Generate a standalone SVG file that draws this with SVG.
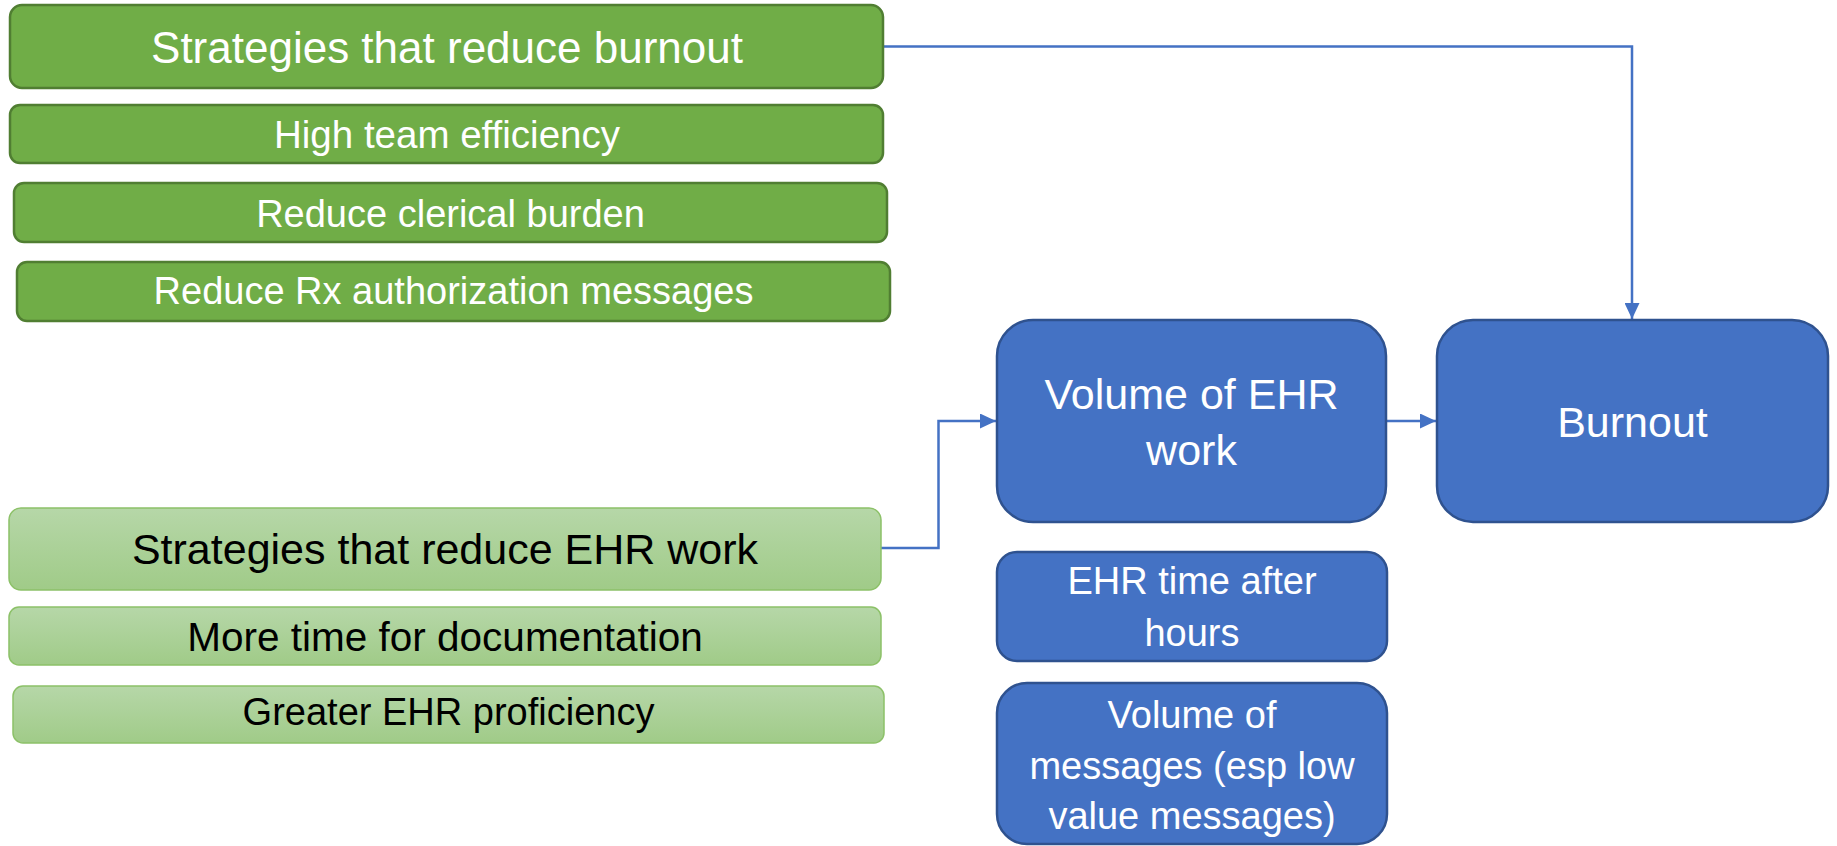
<svg xmlns="http://www.w3.org/2000/svg" width="1837" height="846" viewBox="0 0 1837 846">
<style>
.g1{fill:#70AD47;stroke:#507E32;stroke-width:2.5}
.g2{fill:url(#lg);stroke:#8CC168;stroke-width:1.5}
.b{fill:#4472C4;stroke:#2F528F;stroke-width:2.5}
.tw{fill:#FFFFFF;font-family:"Liberation Sans",Arial,sans-serif;text-anchor:middle}
.tk{fill:#000000;font-family:"Liberation Sans",Arial,sans-serif;text-anchor:middle}
.c{fill:none;stroke:#4472C4;stroke-width:2.5}
</style>
<defs>
<linearGradient id="lg" x1="0" y1="0" x2="0" y2="1">
<stop offset="0" stop-color="#B6D7A8"/>
<stop offset="1" stop-color="#A0CB88"/>
</linearGradient>
<marker id="ah" markerWidth="17" markerHeight="15" refX="16" refY="7.5" orient="auto" markerUnits="userSpaceOnUse">
<path d="M0,0 L16,7.5 L0,15 Z" fill="#4472C4"/>
</marker>
</defs>
<rect width="1837" height="846" fill="#FFFFFF"/>
<g id="connectors">
<path class="c" d="M883,46.5 H1632 V319" marker-end="url(#ah)"/>
<path class="c" d="M881,548 H938.5 V421 H996" marker-end="url(#ah)"/>
<path class="c" d="M1386,421 H1436" marker-end="url(#ah)"/>
</g>
<g id="n-burnout-strategies">
<rect class="g1" x="10" y="5" width="873" height="83" rx="12"/>
<text class="tw" x="447" y="63" font-size="44">Strategies that reduce burnout</text>
</g>
<g id="n-team-efficiency">
<rect class="g1" x="10" y="105" width="873" height="58" rx="10"/>
<text class="tw" x="447" y="148" font-size="38.5">High team efficiency</text>
</g>
<g id="n-clerical">
<rect class="g1" x="14" y="183" width="873" height="59" rx="10"/>
<text class="tw" x="450.5" y="227" font-size="38">Reduce clerical burden</text>
</g>
<g id="n-rx">
<rect class="g1" x="17" y="262" width="873" height="59" rx="10"/>
<text class="tw" x="453.5" y="304" font-size="38">Reduce Rx authorization messages</text>
</g>
<g id="n-ehr-strategies">
<rect class="g2" x="9" y="508" width="872" height="82" rx="12"/>
<text class="tk" x="445" y="564" font-size="43">Strategies that reduce EHR work</text>
</g>
<g id="n-documentation">
<rect class="g2" x="9" y="607" width="872" height="58" rx="10"/>
<text class="tk" x="445" y="651" font-size="40.5">More time for documentation</text>
</g>
<g id="n-proficiency">
<rect class="g2" x="13" y="686" width="871" height="57" rx="10"/>
<text class="tk" x="448.5" y="725" font-size="38">Greater EHR proficiency</text>
</g>
<g id="n-volume-ehr">
<rect class="b" x="997" y="320" width="389" height="202" rx="36"/>
<text class="tw" x="1191.5" y="409" font-size="43">Volume of EHR</text>
<text class="tw" x="1191.5" y="465" font-size="43">work</text>
</g>
<g id="n-burnout">
<rect class="b" x="1437" y="320" width="391" height="202" rx="36"/>
<text class="tw" x="1632.5" y="437" font-size="43">Burnout</text>
</g>
<g id="n-after-hours">
<rect class="b" x="997" y="552" width="390" height="109" rx="20"/>
<text class="tw" x="1192" y="594" font-size="38">EHR time after</text>
<text class="tw" x="1192" y="646" font-size="38">hours</text>
</g>
<g id="n-messages">
<rect class="b" x="997" y="683" width="390" height="161" rx="30"/>
<text class="tw" x="1192" y="728" font-size="38">Volume of</text>
<text class="tw" x="1192" y="779" font-size="38">messages (esp low</text>
<text class="tw" x="1192" y="829" font-size="38">value messages)</text>
</g>
</svg>
